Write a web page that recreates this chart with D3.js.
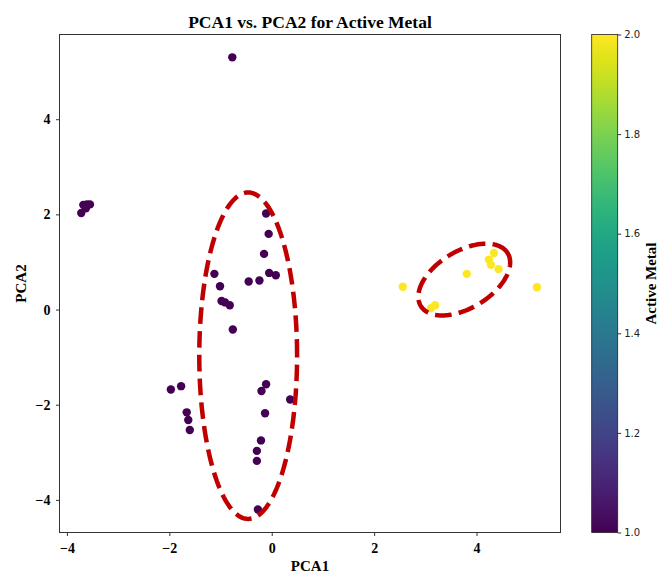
<!DOCTYPE html>
<html>
<head>
<meta charset="utf-8">
<script src="https://cdn.jsdelivr.net/npm/d3@7"></script>
<style>
  body { margin: 0; background: #fff; }
  svg { display: block; }
</style>
</head>
<body>
<svg id="chart" width="658" height="572"></svg>
<script>
// PCA scores
var pca1 = [
  -0.77,
  -3.72, -3.68, -3.61, -3.55, -3.63,
  -0.11, -0.06, -0.15, -1.12, -1.01, -0.98, -0.91, -0.82, -0.76, -0.45, -0.24, -0.05, 0.08,
  -1.97, -1.77, -1.66, -1.63, -1.60,
  -0.11, -0.20, 0.36, -0.13, -0.21, -0.29, -0.29, -0.27,
  2.56, 3.11, 3.19, 3.81, 4.34, 4.24, 4.28, 4.43, 5.18
];
var pca2 = [
  5.30,
  2.03, 2.20, 2.21, 2.21, 2.13,
  2.02, 1.59, 1.17, 0.75, 0.49, 0.18, 0.15, 0.09, -0.42, 0.59, 0.61, 0.77, 0.72,
  -1.68, -1.61, -2.16, -2.32, -2.53,
  -1.57, -1.71, -1.89, -2.18, -2.75, -2.97, -3.18, -4.20,
  0.48, 0.03, 0.09, 0.75, 1.19, 1.05, 0.94, 0.85, 0.47
];
var activeMetal = [
  1,
  1, 1, 1, 1, 1,
  1, 1, 1, 1, 1, 1, 1, 1, 1, 1, 1, 1, 1,
  1, 1, 1, 1, 1,
  1, 1, 1, 1, 1, 1, 1, 1,
  2, 2, 2, 2, 2, 2, 2, 2, 2
];

// highlighted groups (data units)
var ellipseCx = [-0.46, 3.76];
var ellipseCy = [-0.97, 0.63];
var ellipseWidth = [1.91, 2.03];
var ellipseHeight = [6.86, 1.17];
var ellipseAngle = [0, 35];

var xTicks = [-4, -2, 0, 2, 4];
var yTicks = [-4, -2, 0, 2, 4];
var colorTicks = [1.0, 1.2, 1.4, 1.6, 1.8, 2.0];

var svg = d3.select("#chart");
// plot box (note: "top" is taken by window.top, so prefix these)
var plotLeft = 59.5, plotRight = 560.5, plotTop = 34.5, plotBottom = 532.5;
var serif = "'Liberation Serif', 'Times New Roman', serif";

var x = d3.scaleLinear().domain([-4.145, 5.64]).range([plotLeft, plotRight]);
var y = d3.scaleLinear().domain([-4.685, 5.78]).range([plotBottom, plotTop]);
var color = d3.scaleSequential(d3.interpolateViridis).domain([1, 2]);

var points = pca1.map(function(v, i) {
  return { x: v, y: pca2[i], c: activeMetal[i] };
});

// points
svg.append("g")
  .selectAll("circle")
  .data(points)
  .enter().append("circle")
    .attr("cx", function(d) { return x(d.x); })
    .attr("cy", function(d) { return y(d.y); })
    .attr("r", 4.2)
    .attr("fill", function(d) { return color(d.c); });

// dashed ellipses, built in data space then pushed through the scales
var ellipses = ellipseCx.map(function(cx, i) {
  var a = ellipseWidth[i] / 2, b = ellipseHeight[i] / 2;
  var phi = ellipseAngle[i] * Math.PI / 180;
  return d3.range(0, 361, 2).map(function(deg) {
    var t = deg * Math.PI / 180;
    return [
      cx + a * Math.cos(t) * Math.cos(phi) - b * Math.sin(t) * Math.sin(phi),
      ellipseCy[i] + a * Math.cos(t) * Math.sin(phi) + b * Math.sin(t) * Math.cos(phi)
    ];
  });
});
var line = d3.line()
  .x(function(d) { return x(d[0]); })
  .y(function(d) { return y(d[1]); });

svg.append("g")
  .selectAll("path")
  .data(ellipses)
  .enter().append("path")
    .attr("d", line)
    .attr("fill", "none")
    .attr("stroke", "#c00000")
    .attr("stroke-width", 4.5)
    .attr("stroke-dasharray", "16.6,7.2");

// frame
svg.append("rect")
  .attr("x", plotLeft).attr("y", plotTop)
  .attr("width", plotRight - plotLeft).attr("height", plotBottom - plotTop)
  .attr("fill", "none")
  .attr("stroke", "#333")
  .attr("stroke-width", 1);

function minusFormat(d) {
  return d < 0 ? "\u2212" + Math.abs(d) : d;
}

function styleAxis(g) {
  g.select(".domain").remove();
  g.selectAll(".tick line").attr("stroke", "#333");
  g.selectAll(".tick text")
    .attr("fill", "#000")
    .style("font-family", serif)
    .style("font-weight", "bold")
    .style("font-size", "14px");
}

svg.append("g")
  .attr("transform", "translate(0," + plotBottom + ")")
  .call(d3.axisBottom(x).tickValues(xTicks).tickSize(3.5).tickPadding(7).tickFormat(minusFormat))
  .call(styleAxis);

svg.append("g")
  .attr("transform", "translate(" + plotLeft + ",0)")
  .call(d3.axisLeft(y).tickValues(yTicks).tickSize(3.5).tickPadding(5.5).tickFormat(minusFormat))
  .call(styleAxis);

// title and axis labels
svg.append("text")
  .attr("x", (plotLeft + plotRight) / 2).attr("y", 28)
  .attr("text-anchor", "middle")
  .style("font-family", serif).style("font-weight", "bold").style("font-size", "17.5px")
  .text("PCA1 vs. PCA2 for Active Metal");

svg.append("text")
  .attr("x", (plotLeft + plotRight) / 2).attr("y", 570.5)
  .attr("text-anchor", "middle")
  .style("font-family", serif).style("font-weight", "bold").style("font-size", "15px")
  .text("PCA1");

svg.append("text")
  .attr("transform", "translate(26," + (plotTop + plotBottom) / 2 + ") rotate(-90)")
  .attr("text-anchor", "middle")
  .style("font-family", serif).style("font-weight", "bold").style("font-size", "15px")
  .text("PCA2");

// colorbar
var cbLeft = 591.7, cbRight = 617.7;
var cbScale = d3.scaleLinear().domain([1, 2]).range([plotBottom, plotTop]);

var grad = svg.append("defs").append("linearGradient")
  .attr("id", "viridis")
  .attr("x1", "0").attr("y1", "1").attr("x2", "0").attr("y2", "0");
grad.selectAll("stop")
  .data(d3.range(0, 1.0001, 0.05))
  .enter().append("stop")
    .attr("offset", function(d) { return d; })
    .attr("stop-color", function(d) { return color(1 + d); });

svg.append("rect")
  .attr("x", cbLeft).attr("y", plotTop)
  .attr("width", cbRight - cbLeft).attr("height", plotBottom - plotTop)
  .attr("fill", "url(#viridis)")
  .attr("stroke", "#222")
  .attr("stroke-width", 0.8);

var cbAxis = svg.append("g")
  .attr("transform", "translate(" + cbRight + ",0)")
  .call(d3.axisRight(cbScale).tickValues(colorTicks).tickSize(3.5).tickPadding(3)
    .tickFormat(d3.format(".1f")));
cbAxis.select(".domain").remove();
cbAxis.selectAll(".tick line").attr("stroke", "#333");
cbAxis.selectAll(".tick text")
  .attr("fill", "#222")
  .style("font-family", "'DejaVu Sans', sans-serif")
  .style("font-size", "10px");

svg.append("text")
  .attr("transform", "translate(656," + (plotTop + plotBottom) / 2 + ") rotate(-90)")
  .attr("text-anchor", "middle")
  .style("font-family", serif).style("font-weight", "bold").style("font-size", "15px")
  .text("Active Metal");
</script>
</body>
</html>
